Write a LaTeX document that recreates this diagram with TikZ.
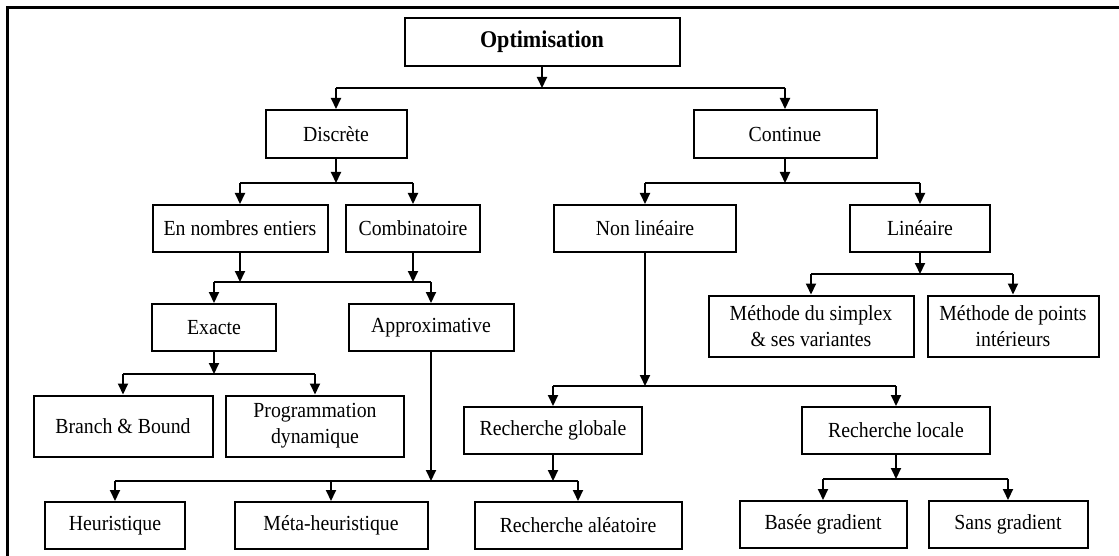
\documentclass[tikz,border=0pt]{standalone}
\usepackage{fontspec}
\setmainfont{Liberation Serif}[FakeStretch=0.92]
\usetikzlibrary{arrows.meta}

\begin{document}
\begin{tikzpicture}[x=1pt, y=-1pt,
    box/.style={draw, line width=2pt, minimum height=47pt, inner sep=0pt, align=center,
                font=\fontsize{21.5}{26}\selectfont},
    tall/.style={box, minimum height=61pt},
    bus/.style={line width=2pt},
    arr/.style={line width=2pt, -{Triangle[width=10pt,length=11pt]}}]
    \useasboundingbox (0,0) rectangle (1119,556);
    \draw[line width=3pt] (7,556) -- (7,8) -- (1119,8);
    % boxes
    \node[box, minimum width=275pt, minimum height=48pt, font=\fontsize{24}{28}\selectfont\bfseries] (opt) at (542,42) {Optimisation};
    \node[box, minimum width=141pt, minimum height=48pt] (disc) at (336,134) {Discrète};
    \node[box, minimum width=183pt, minimum height=48pt] (cont) at (785,134) {Continue};
    \node[box, minimum width=175pt] (ent) at (240,228.5) {En nombres entiers};
    \node[box, minimum width=134pt] (comb) at (413,228.5) {Combinatoire};
    \node[box, minimum width=182pt] (nonlin) at (645,228.5) {Non linéaire};
    \node[box, minimum width=140pt] (lin) at (920,228.5) {Linéaire};
    \node[box, minimum width=124pt] (exacte) at (214,327.5) {Exacte};
    \node[box, minimum width=165pt] (approx) at (431,327.5) {Approximative};
    \node[tall, minimum width=205pt] (simplex) at (811,326) {Méthode du simplex\\\& ses variantes};
    \node[tall, minimum width=171pt] (points) at (1013,326) {Méthode de points\\intérieurs};
    \node[tall, minimum width=179pt] (bb) at (123,426) {Branch \& Bound};
    \node[tall, minimum width=178pt] (progdyn) at (315,426) {Programmation\\dynamique};
    \node[box, minimum width=178pt] (rglob) at (553,430.5) {Recherche globale};
    \node[box, minimum width=188pt] (rloc) at (896,430.5) {Recherche locale};
    \node[box, minimum width=140pt] (heur) at (115,525.5) {Heuristique};
    \node[box, minimum width=193pt] (meta) at (331,525.5) {Méta-heuristique};
    \node[box, minimum width=207pt] (ralea) at (578,525.5) {Recherche aléatoire};
    \node[box, minimum width=167pt] (grad) at (823,524.5) {Basée gradient};
    \node[box, minimum width=159pt] (sgrad) at (1008,524.5) {Sans gradient};
    % buses
    \coordinate (b1) at (0,88);
    \coordinate (b2) at (0,183);
    \coordinate (b3) at (0,282);
    \coordinate (b4) at (0,374);
    \coordinate (b5) at (0,274);
    \coordinate (b6) at (0,386);
    \coordinate (b7) at (0,481);
    \coordinate (b8) at (0,479);
    % optimisation
    \draw[arr] (opt.south) -- (opt.south |- b1);
    \draw[bus] (disc.north |- b1) -- (cont.north |- b1);
    \draw[arr] (disc.north |- b1) -- (disc.north);
    \draw[arr] (cont.north |- b1) -- (cont.north);
    % discrete
    \draw[arr] (disc.south) -- (disc.south |- b2);
    \draw[bus] (ent.north |- b2) -- (comb.north |- b2);
    \draw[arr] (ent.north |- b2) -- (ent.north);
    \draw[arr] (comb.north |- b2) -- (comb.north);
    \draw[arr] (ent.south) -- (ent.south |- b3);
    \draw[arr] (comb.south) -- (comb.south |- b3);
    \draw[bus] (exacte.north |- b3) -- (approx.north |- b3);
    \draw[arr] (exacte.north |- b3) -- (exacte.north);
    \draw[arr] (approx.north |- b3) -- (approx.north);
    \draw[arr] (exacte.south) -- (exacte.south |- b4);
    \draw[bus] (bb.north |- b4) -- (progdyn.north |- b4);
    \draw[arr] (bb.north |- b4) -- (bb.north);
    \draw[arr] (progdyn.north |- b4) -- (progdyn.north);
    % continue
    \draw[arr] (cont.south) -- (cont.south |- b2);
    \draw[bus] (nonlin.north |- b2) -- (lin.north |- b2);
    \draw[arr] (nonlin.north |- b2) -- (nonlin.north);
    \draw[arr] (lin.north |- b2) -- (lin.north);
    \draw[arr] (lin.south) -- (lin.south |- b5);
    \draw[bus] (simplex.north |- b5) -- (points.north |- b5);
    \draw[arr] (simplex.north |- b5) -- (simplex.north);
    \draw[arr] (points.north |- b5) -- (points.north);
    \draw[arr] (nonlin.south) -- (nonlin.south |- b6);
    \draw[bus] (rglob.north |- b6) -- (rloc.north |- b6);
    \draw[arr] (rglob.north |- b6) -- (rglob.north);
    \draw[arr] (rloc.north |- b6) -- (rloc.north);
    % approximative + recherche globale
    \draw[arr] (approx.south) -- (approx.south |- b7);
    \draw[arr] (rglob.south) -- (rglob.south |- b7);
    \draw[bus] (heur.north |- b7) -- (ralea.north |- b7);
    \draw[arr] (heur.north |- b7) -- (heur.north);
    \draw[arr] (meta.north |- b7) -- (meta.north);
    \draw[arr] (ralea.north |- b7) -- (ralea.north);
    % recherche locale
    \draw[arr] (rloc.south) -- (rloc.south |- b8);
    \draw[bus] (grad.north |- b8) -- (sgrad.north |- b8);
    \draw[arr] (grad.north |- b8) -- (grad.north);
    \draw[arr] (sgrad.north |- b8) -- (sgrad.north);
\end{tikzpicture}
\end{document}
